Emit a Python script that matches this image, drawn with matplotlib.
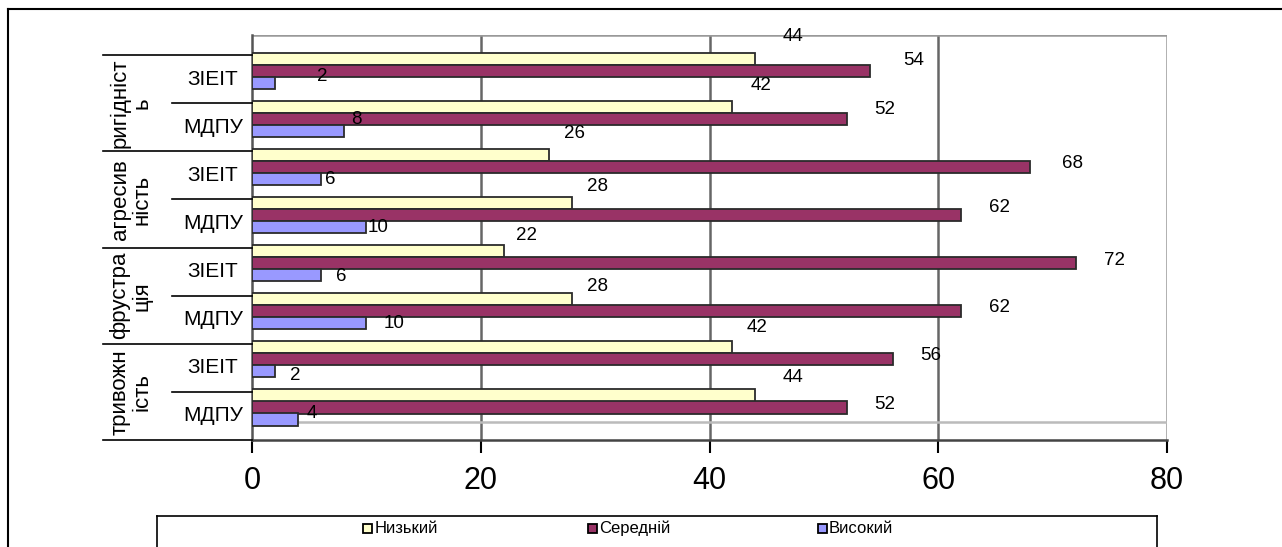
import matplotlib
matplotlib.use("Agg")
import matplotlib.pyplot as plt
from matplotlib.patches import Rectangle
from matplotlib.lines import Line2D
from matplotlib.transforms import blended_transform_factory
import numpy as np

plt.rcParams['font.family'] = ['Liberation Sans', 'DejaVu Sans']

# ---- data (rows listed top to bottom) ----
groups = ["ригідніст\nь", "агресив\nність", "фрустра\nція", "тривожн\nість"]
subgroups = ["ЗІЕІТ", "МДПУ"]
series_names = ["Низький", "Середній", "Високий"]
low = [44, 42, 26, 28, 22, 28, 42, 44]
mid = [54, 52, 68, 62, 72, 62, 56, 52]
high = [2, 8, 6, 10, 6, 10, 2, 4]
x_ticks = [0, 20, 40, 60, 80]

# ---- style ----
colors = ["#FFFFCC", "#993366", "#9999FF"]
# label nudges in pixels (dx from bar end, dy from bar centre; + is up)
lab_off = [
    [(38, 22), (29, 21), (25, 21), (25, 17), (23, 16), (25, 13), (25, 20), (38, 18)],
    [(44, 10), (38, 9), (43, 3), (38, 8), (39, 3), (38, 4), (38, 4), (38, 3)],
    [(47, 6), (13, 11), (10, -1), (12, 0), (21, -1), (28, 0), (20, -4), (14, 6)],
]

W, H = 1282, 547
fig = plt.figure(figsize=(W / 100, H / 100), dpi=100)
fig.patch.set_facecolor("white")

ax_left, ax_right, ax_bot, ax_top = 252, 1167, 440, 35
ax = fig.add_axes([ax_left / W, 1 - ax_bot / H, (ax_right - ax_left) / W, (ax_bot - ax_top) / H])
row_px = 48.1
ymax = (ax_bot - ax_top) / row_px
ax.set_xlim(0, 80)
ax.set_ylim(0, ymax)

n = len(low)
rows = np.arange(n)[::-1]  # top row gets highest index
bar_h = 0.255
centers = [rows + 0.927, rows + 0.677, rows + 0.428]
data = [low, mid, high]

# grid / walls
for xv in x_ticks[1:-1]:
    ax.axvline(xv, color="#666666", lw=1.8, zorder=1)
ax.axvline(80, color="#999999", lw=1.8, zorder=1)
ax.axhline(ymax, color="#999999", lw=1.8, zorder=1)
ax.axhline((ax_bot - 422) / row_px, color="#BBBBBB", lw=1.8, zorder=1)

for vals, cy, col in zip(data, centers, colors):
    ax.barh(cy, vals, height=bar_h, color=col, edgecolor="#2b2b2b", lw=1.3, zorder=3)

for s, (vals, cy) in enumerate(zip(data, centers)):
    for j, (v, c) in enumerate(zip(vals, cy)):
        dx, dy = lab_off[s][j]
        ax.annotate(str(v), (v, c), xytext=(dx, dy), textcoords="offset pixels",
                    ha="center", va="center", fontsize=13.5, color="black", zorder=5)

for side in ["top", "right"]:
    ax.spines[side].set_visible(False)
ax.spines["left"].set_color("#555555")
ax.spines["left"].set_linewidth(1.8)
ax.spines["bottom"].set_color("#444444")
ax.spines["bottom"].set_linewidth(1.8)

ax.set_xticks(x_ticks)
ax.set_xticklabels([str(t) for t in x_ticks], fontsize=22)
ax.tick_params(axis="x", length=9, width=1.5, color="black", pad=10, direction="out")
ax.set_yticks([])

# category axis
tr = blended_transform_factory(fig.transFigure, ax.transData)
for b in [0, 2, 4, 6, 8]:
    fig.add_artist(Line2D([103 / W, ax_left / W], [b, b], transform=tr, color="black", lw=1.2))
for b in [1, 3, 5, 7]:
    fig.add_artist(Line2D([172 / W, ax_left / W], [b, b], transform=tr, color="black", lw=1.2))
for j in range(n):
    fig.text(213 / W, rows[j] + 0.5, subgroups[j % 2], transform=tr,
             ha="center", va="center", fontsize=15)
for g, name in enumerate(groups):
    yc = 8 - 2 * g - 1
    fig.text(131 / W, yc, name, transform=tr, rotation=90, ha="center", va="center",
             fontsize=16, linespacing=1.05, multialignment="center")

# outer frame
fig.add_artist(Line2D([8 / W, 8 / W], [0, 1 - 9 / H], color="black", lw=1.5))
fig.add_artist(Line2D([8 / W, 1], [1 - 9 / H, 1 - 9 / H], color="black", lw=1.5))

# legend box
fig.add_artist(Line2D([157 / W, 157 / W], [0, 1 - 516 / H], color="black", lw=1.2))
fig.add_artist(Line2D([1157 / W, 1157 / W], [0, 1 - 516 / H], color="black", lw=1.2))
fig.add_artist(Line2D([157 / W, 1157 / W], [1 - 516 / H, 1 - 516 / H], color="black", lw=1.2))
leg_x = [368, 592, 822]
for name, col, lx in zip(series_names, colors, leg_x):
    fig.add_artist(Rectangle(((lx - 4.5) / W, 1 - 533 / H), 9 / W, 9 / H, facecolor=col,
                             edgecolor="black", lw=1.3, transform=fig.transFigure))
    fig.text((lx + 7) / W, 1 - 528.5 / H, name, ha="left", va="center", fontsize=12)

fig.savefig("out.png", dpi=100)
